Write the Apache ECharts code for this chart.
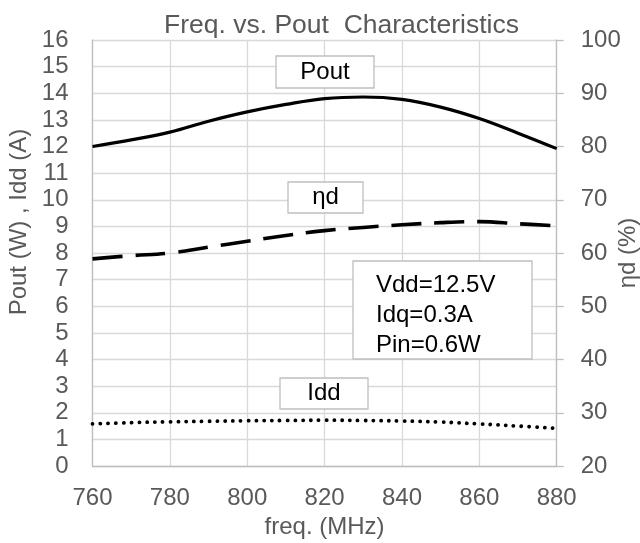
<!DOCTYPE html>
<html>
<head>
<meta charset="utf-8">
<script src="https://cdn.jsdelivr.net/npm/echarts@6/dist/echarts.min.js"></script>
<style>
  html, body { margin: 0; padding: 0; background: #fff; }
  #chart { width: 640px; height: 543px; }
</style>
</head>
<body>
<div id="chart"></div>
<script>
// frequency points (MHz)
var freq = [760, 770, 780, 790, 800, 810, 820, 830, 840, 850, 860, 870, 880];
// output power (W), left axis
var pout = [12.0, 12.25, 12.54, 12.95, 13.3, 13.58, 13.8, 13.86, 13.77, 13.48, 13.05, 12.5, 11.92];
// drain efficiency (%), right axis
var etaD = [58.9, 59.5, 60.0, 61.1, 62.2, 63.3, 64.2, 64.8, 65.3, 65.7, 65.9, 65.5, 65.1];
// drain current (A), left axis
var idd = [1.58, 1.63, 1.66, 1.68, 1.7, 1.71, 1.72, 1.71, 1.69, 1.65, 1.58, 1.5, 1.41];

var condText = ['Vdd=12.5V', 'Idq=0.3A', 'Pin=0.6W'];

function pairs(ys) {
  return freq.map(function (f, i) { return [f, ys[i]]; });
}

var FONT = '"Liberation Sans", Arial, sans-serif';
var GREY = '#595959';

var chart = echarts.init(document.getElementById('chart'));

// white label box drawn over the plot
function box(x, y, w, h, lines, lh) {
  var kids = [{
    type: 'rect', z: 100,
    shape: { x: 0, y: 0, width: w, height: h },
    style: { fill: '#fff', stroke: '#bfbfbf', lineWidth: 1.3 }
  }];
  lines.forEach(function (t, i) {
    kids.push({
      type: 'text', z: 101,
      x: lh ? 23 : w / 2,
      y: lh ? 12 + i * lh : h / 2,
      style: {
        text: t, fill: '#000', font: '24px ' + FONT,
        align: lh ? 'left' : 'center', verticalAlign: lh ? 'top' : 'middle'
      }
    });
  });
  return { type: 'group', x: x, y: y, z: 100, children: kids };
}

chart.setOption({
  animation: false,
  textStyle: { fontFamily: FONT },
  title: {
    text: 'Freq. vs. Pout  Characteristics',
    left: 159, top: 7,
    textStyle: { fontSize: 26.5, fontWeight: 'normal', color: GREY, fontFamily: FONT }
  },
  grid: { left: 92.5, right: 83.3, top: 40, bottom: 77, outerBoundsMode: 'none', containLabel: false },
  xAxis: {
    type: 'value', min: 760, max: 880, interval: 20,
    name: 'freq. (MHz)', nameLocation: 'middle', nameGap: 46,
    nameTextStyle: { fontSize: 24, color: GREY },
    axisLine: { lineStyle: { color: '#bfbfbf', width: 1.3 } },
    axisTick: { show: false },
    axisLabel: { fontSize: 24, color: GREY, margin: 20 },
    splitLine: { show: true, lineStyle: { color: '#d9d9d9', width: 1.3 } }
  },
  yAxis: [{
    type: 'value', min: 0, max: 16, interval: 1,
    name: 'Pout (W) , Idd (A)', nameLocation: 'middle', nameGap: 58,
    nameTextStyle: { fontSize: 24, color: GREY, padding: [0, 0, 0, 62] },
    axisLine: { show: true, lineStyle: { color: '#bfbfbf', width: 1.3 } },
    axisTick: { show: false },
    axisLabel: { fontSize: 24, color: GREY, margin: 24 },
    splitLine: { show: true, lineStyle: { color: '#d9d9d9', width: 1.3 } }
  }, {
    type: 'value', min: 20, max: 100, interval: 10, position: 'right',
    name: 'ηd (%)', nameLocation: 'middle', nameGap: 60, nameRotate: 90,
    nameMoveOverlap: false,
    nameTextStyle: { fontSize: 24, color: GREY },
    axisLine: { show: true, lineStyle: { color: '#bfbfbf', width: 1.3 } },
    axisTick: { show: true, inside: false, length: 7, lineStyle: { color: '#bfbfbf', width: 1.3 } },
    axisLabel: { fontSize: 24, color: GREY, margin: 24 },
    splitLine: { show: false }
  }],
  series: [{
    name: 'Pout', type: 'line', yAxisIndex: 0, smooth: 0.4,
    showSymbol: false, data: pairs(pout),
    lineStyle: { color: '#000', width: 3.2 }
  }, {
    name: 'ηd', type: 'line', yAxisIndex: 1, smooth: 0.4,
    showSymbol: false, data: pairs(etaD),
    lineStyle: { color: '#000', width: 3.6, type: [30, 13] }
  }, {
    name: 'Idd', type: 'line', yAxisIndex: 0, smooth: 0.4,
    showSymbol: false, data: pairs(idd),
    lineStyle: { color: '#000', width: 3.8, type: [0.1, 7.7], cap: 'round' }
  }],
  graphic: [
    box(276, 56, 98, 32, ['Pout']),
    box(288, 182, 75, 31, ['ηd']),
    box(280, 378, 88, 31, ['Idd']),
    box(353, 261, 179, 98, condText, 30)
  ]
});
</script>
</body>
</html>
